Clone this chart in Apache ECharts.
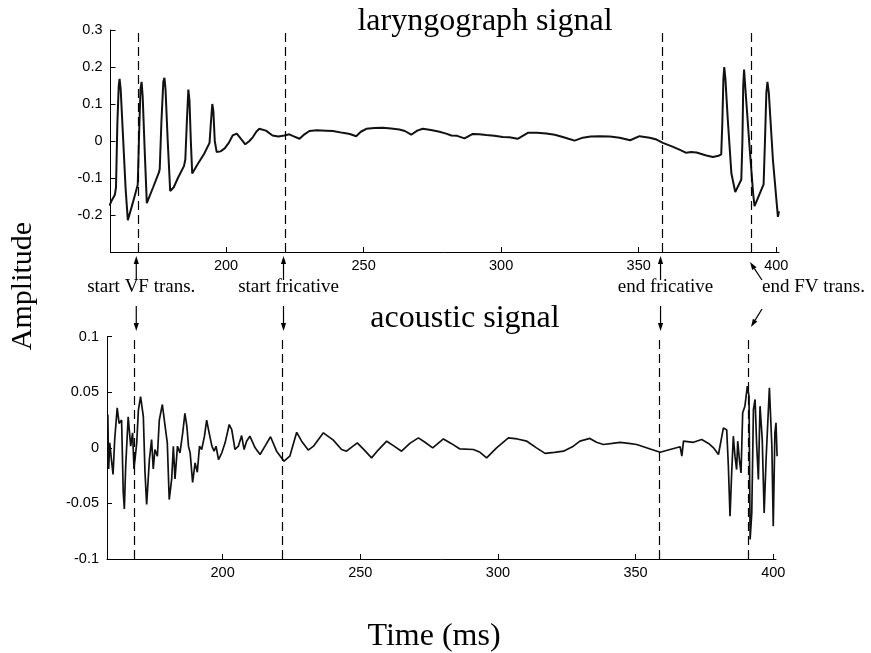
<!DOCTYPE html>
<html>
<head>
<meta charset="utf-8">
<script src="https://cdn.jsdelivr.net/npm/echarts@6.0.0/dist/echarts.min.js"></script>
<style>
  html, body { margin: 0; padding: 0; background: #ffffff; }
  #chart { width: 871px; height: 653px; }
</style>
</head>
<body>
<div id="chart"></div>
<script>
// ---------- data ----------
const larTime = [157.6,158.5,159.6,160.0,160.5,161.0,161.3,161.7,162.5,163.5,164.3,166.0,167.9,168.4,168.9,169.3,169.7,170.4,171.2,173.5,175.6,175.9,176.5,177.2,177.6,178.0,178.8,179.7,181.0,182.5,184.7,185.2,185.8,186.3,186.7,187.2,187.7,189.5,192.0,194.0,194.5,195.0,195.4,195.9,196.6,198.0,199.5,201.0,202.4,203.9,205.5,207.0,208.5,209.7,211.0,212.1,214.5,216.9,219.0,221.2,223.0,224.2,226.7,228.5,230.3,233.0,236.4,238.8,242.5,245.0,247.3,249.0,251.0,254.0,257.0,260.0,263.0,265.0,267.3,269.5,271.5,274.5,277.6,280.0,281.9,284.0,286.7,289.7,292.0,294.6,297.5,300.6,303.0,306.0,309.7,313.0,316.4,319.5,322.4,324.5,326.7,329.7,332.5,335.8,339.5,343.1,346.9,350.3,354.0,356.5,358.8,362.5,365.0,367.3,369.0,371.0,374.6,377.0,379.0,380.0,380.4,380.8,381.1,381.5,382.4,383.7,385.1,387.3,387.7,388.0,388.3,388.7,390.3,391.6,392.1,395.4,395.9,396.4,396.8,397.3,398.8,400.6,401.0];
const larAmp = [-0.175,-0.16,-0.145,-0.125,0.05,0.15,0.168,0.14,0.02,-0.13,-0.214,-0.17,-0.118,0.02,0.14,0.16,0.12,-0.02,-0.168,-0.125,-0.085,-0.075,0.05,0.16,0.171,0.14,0.0,-0.135,-0.125,-0.1,-0.068,-0.05,0.06,0.139,0.11,0.0,-0.088,-0.065,-0.035,-0.005,0.05,0.1,0.08,0.0,-0.03,-0.028,-0.02,-0.005,0.015,0.02,0.005,-0.009,0.0,0.01,0.025,0.033,0.028,0.015,0.012,0.015,0.018,0.014,0.006,0.018,0.027,0.029,0.028,0.027,0.022,0.019,0.013,0.025,0.033,0.035,0.036,0.034,0.031,0.027,0.017,0.028,0.033,0.030,0.025,0.02,0.015,0.014,0.007,0.019,0.018,0.016,0.014,0.011,0.01,0.006,0.022,0.022,0.02,0.017,0.011,0.006,0.001,0.009,0.012,0.013,0.012,0.009,0.002,0.013,0.009,0.004,-0.005,-0.016,-0.024,-0.032,-0.03,-0.031,-0.039,-0.043,-0.04,-0.036,0.05,0.17,0.2,0.17,0.056,-0.088,-0.138,-0.104,0.0,0.15,0.193,0.15,-0.016,-0.142,-0.176,-0.117,0.0,0.13,0.16,0.13,-0.052,-0.205,-0.19];

const acoTime = [158.3,158.6,159.0,159.6,160.2,160.8,161.7,162.4,163.3,163.9,164.3,164.8,165.7,166.6,167.3,167.8,168.8,169.4,170.2,171.2,171.8,172.4,173.4,174.2,174.8,175.4,176.3,177.0,178.1,179.1,179.9,180.6,181.5,182.1,182.7,183.6,184.5,185.5,186.3,187.0,187.6,188.2,189.1,190.0,190.8,191.6,192.4,193.4,194.2,195.1,196.1,196.9,197.6,198.5,199.7,200.9,202.4,203.3,204.5,205.7,206.9,207.8,208.7,209.9,211.8,213.6,215.4,217.4,219.6,222.3,224.4,226.9,228.7,231.1,233.0,236.6,240.2,243.2,245.0,248.9,251.5,254.1,256.5,259.6,262.0,265.0,268.0,271.1,273.5,276.3,280.2,283.0,286.2,291.1,293.5,295.9,299.5,303.8,307.0,310.5,314.0,317.1,320.5,323.8,327.4,329.8,333.4,335.8,338.3,341.5,344.4,347.5,350.4,355.3,358.9,362.5,366.2,366.8,367.4,371.0,374.0,376.5,378.3,380.1,381.0,381.9,383.1,383.7,384.3,384.9,385.5,386.1,386.7,387.1,387.7,388.3,388.9,389.7,390.6,391.2,391.6,392.2,392.8,393.4,394.0,394.6,395.2,396.0,396.7,397.4,398.6,399.5,400.0,400.6,401.0,401.4];
const acoAmp = [0.03,-0.019,0.0045,-0.0105,-0.024,0.0075,0.036,0.022,0.025,-0.04,-0.055,-0.016,0.028,0.0015,0.0135,-0.019,0.0045,0.034,0.046,0.028,-0.022,-0.051,-0.0105,0.0075,-0.019,-0.0015,-0.0075,0.025,0.039,0.0195,0.0045,-0.0465,-0.028,0.0015,-0.028,0.0015,-0.0045,0.0135,0.031,0.0195,0.0015,-0.0045,-0.031,-0.0135,-0.022,0.0015,-0.0015,0.0105,0.025,0.0135,0.0015,-0.003,0.0015,-0.0105,-0.0045,0.0045,0.021,0.0165,-0.0015,0.0015,0.011,-0.0015,0.006,0.0105,0.0,-0.006,0.0015,0.01,-0.003,-0.012,-0.0075,0.014,0.006,-0.002,0.0015,0.0135,0.007,-0.0015,-0.003,0.0045,-0.002,-0.009,-0.002,0.006,0.002,-0.003,0.004,0.009,0.005,0.0,0.008,0.004,-0.001,-0.0015,-0.004,-0.009,0.0,0.009,0.008,0.006,0.0,-0.005,-0.004,-0.003,0.0015,0.006,0.0085,0.005,0.003,0.004,0.005,0.004,0.003,-0.001,-0.004,-0.0015,0.001,-0.0075,0.006,0.005,0.0075,0.004,0.0,-0.006,0.006,0.018,0.016,-0.0165,-0.0615,-0.0225,0.0105,-0.0075,-0.0195,0.006,-0.0105,-0.0225,0.0315,0.0375,0.0555,0.0465,-0.0825,-0.0585,0.0345,0.0435,0.0015,-0.0285,0.0375,0.0075,-0.0585,-0.0105,0.054,0.0015,-0.0705,0.0135,0.0225,-0.0075];

const eventTimes = [168, 221.5, 358.5, 391];
const eventLabels = ['start VF trans.', 'start fricative', 'end fricative', 'end FV trans.'];
const xTicks = [200, 250, 300, 350, 400];
const larYTicks = [-0.2, -0.1, 0, 0.1, 0.2, 0.3];
const acoYTicks = [-0.1, -0.05, 0, 0.05, 0.1];
const panelTitles = ['laryngograph signal', 'acoustic signal'];
const xName = 'Time (ms)';
const yName = 'Amplitude';

// ---------- chart ----------
const chart = echarts.init(document.getElementById('chart'), null, { renderer: 'canvas' });
const serif = '"Liberation Serif", "Times New Roman", serif';
const sans = '"Liberation Sans", Arial, sans-serif';

function pairs(t, v) { return t.map((x, i) => [x, v[i]]); }

function xAxisCfg(idx) {
  return {
    type: 'value', gridIndex: idx, min: 158, max: 401,
    axisLine: { show: true, onZero: false, lineStyle: { color: '#000', width: 1 } },
    axisTick: { show: true, inside: true, length: 5, customValues: xTicks, lineStyle: { color: '#000' } },
    axisLabel: { customValues: xTicks, color: '#000', fontFamily: sans, fontSize: 14.5, margin: 6 },
    splitLine: { show: false }
  };
}
function yAxisCfg(idx, min, max, ticks) {
  return {
    type: 'value', gridIndex: idx, min: min, max: max,
    axisLine: { show: true, onZero: false, lineStyle: { color: '#000', width: 1 } },
    axisTick: { show: true, inside: true, length: 5, customValues: ticks, lineStyle: { color: '#000' } },
    axisLabel: { customValues: ticks, color: '#000', fontFamily: sans, fontSize: 14.5, margin: 8,
      formatter: v => (v === 0 ? '0' : String(+v.toFixed(3))) },
    splitLine: { show: false }
  };
}
const markLineCfg = {
  silent: true, symbol: 'none', animation: false,
  label: { show: false },
  lineStyle: { color: '#000', type: [9, 5], width: 1.2 },
  data: eventTimes.map(t => ({ xAxis: t }))
};

chart.setOption({
  animation: false,
  backgroundColor: '#ffffff',
  grid: [
    { left: 110.5, top: 30, width: 668.5, height: 222 },
    { left: 107, top: 336.7, width: 669, height: 222.3 }
  ],
  xAxis: [xAxisCfg(0), xAxisCfg(1)],
  yAxis: [yAxisCfg(0, -0.3, 0.3, larYTicks), yAxisCfg(1, -0.1, 0.1, acoYTicks)],
  series: [
    { type: 'line', xAxisIndex: 0, yAxisIndex: 0, data: pairs(larTime, larAmp), showSymbol: false,
      lineStyle: { color: '#111', width: 2.0 }, markLine: markLineCfg },
    { type: 'line', xAxisIndex: 1, yAxisIndex: 1, data: pairs(acoTime, acoAmp), showSymbol: false,
      lineStyle: { color: '#111', width: 1.7 }, markLine: markLineCfg }
  ]
});

// ---------- annotations positioned through the axes ----------
const g = [];
function arrow(x1, y1, x2, y2) {
  const ang = Math.atan2(y2 - y1, x2 - x1);
  const hl = 8, hw = 2.6;
  const bx = x2 - hl * Math.cos(ang), by = y2 - hl * Math.sin(ang);
  const px = -Math.sin(ang) * hw, py = Math.cos(ang) * hw;
  g.push({ type: 'line', silent: true, shape: { x1: x1, y1: y1, x2: bx, y2: by }, style: { stroke: '#000', lineWidth: 1.2 } });
  g.push({ type: 'polygon', silent: true, shape: { points: [[x2, y2], [bx + px, by + py], [bx - px, by - py]] }, style: { fill: '#000' } });
}
eventTimes.forEach((t, i) => {
  const xt = chart.convertToPixel({ xAxisIndex: 0 }, t);
  const xb = chart.convertToPixel({ xAxisIndex: 1 }, t);
  const xa = (xt + xb) / 2;
  if (i < 3) {
    arrow(xa, 280, xa, 256);
    arrow(xa, 306, xa, 331);
    g.push({ type: 'text', silent: true, style: { text: eventLabels[i], x: xa + 5, y: 287, align: 'center', verticalAlign: 'middle', font: '19px ' + serif, fill: '#000' } });
  } else {
    arrow(xa + 12, 280, xa, 262);
    arrow(xa + 12, 309, xa + 1, 327);
    g.push({ type: 'text', silent: true, style: { text: eventLabels[i], x: xa + 12, y: 287, align: 'left', verticalAlign: 'middle', font: '19px ' + serif, fill: '#000' } });
  }
});
g.push({ type: 'text', silent: true, style: { text: panelTitles[0], x: 485, y: 22, align: 'center', verticalAlign: 'middle', font: '32px ' + serif, fill: '#000' } });
g.push({ type: 'text', silent: true, style: { text: panelTitles[1], x: 465, y: 319, align: 'center', verticalAlign: 'middle', font: '32px ' + serif, fill: '#000' } });
g.push({ type: 'text', silent: true, style: { text: xName, x: 434, y: 637, align: 'center', verticalAlign: 'middle', font: '32px ' + serif, fill: '#000' } });
g.push({ type: 'text', silent: true, rotation: Math.PI / 2, x: 23, y: 286, style: { text: yName, x: 0, y: 0, align: 'center', verticalAlign: 'middle', font: '30px ' + serif, fill: '#000' } });
chart.setOption({ graphic: g });
</script>
</body>
</html>
